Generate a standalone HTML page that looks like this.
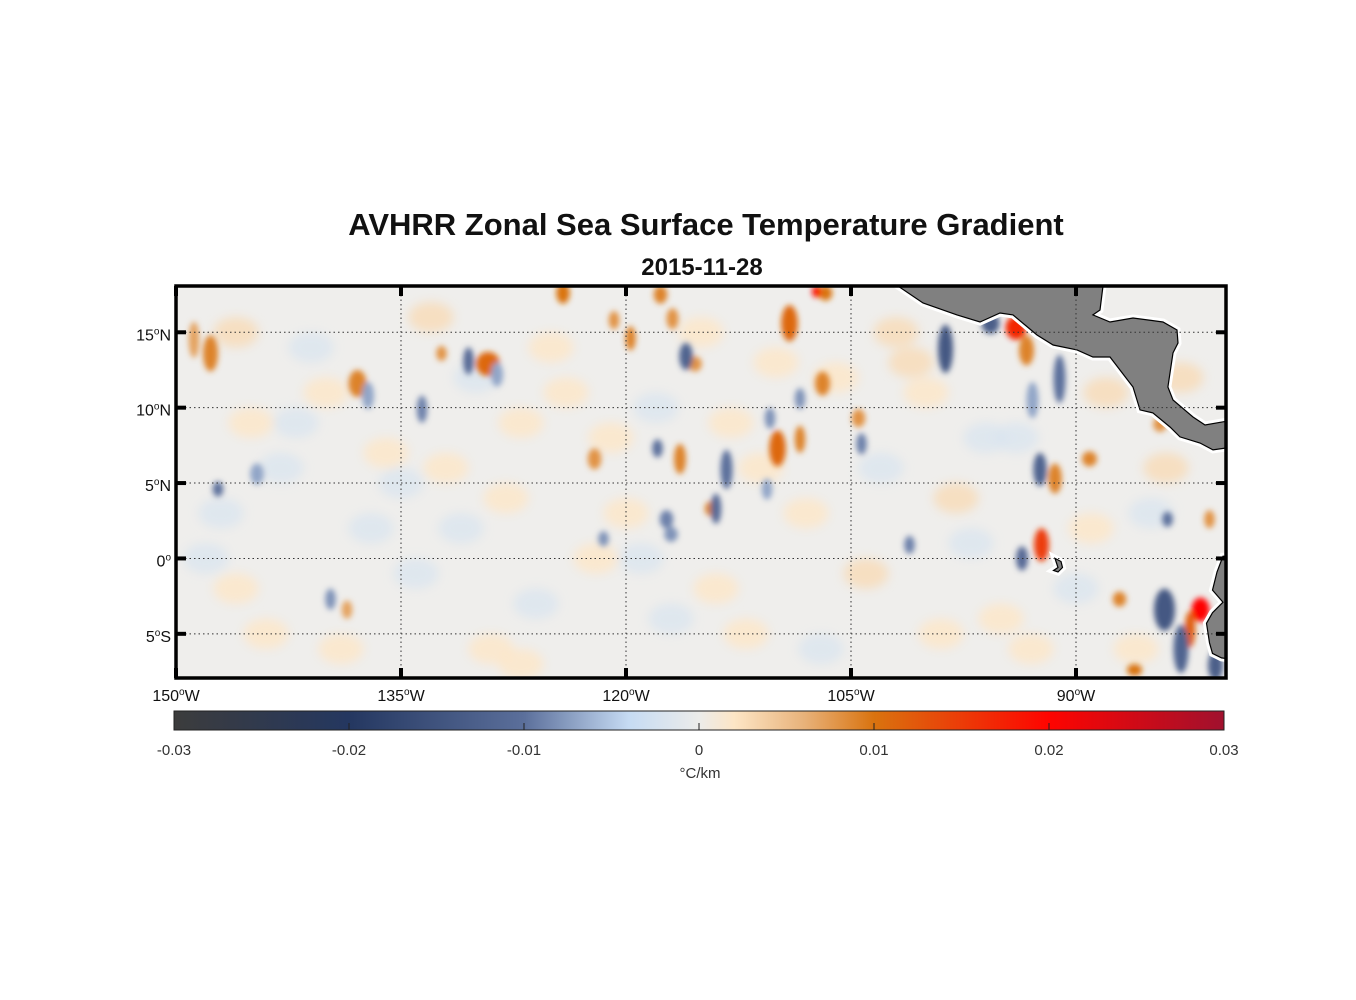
<!DOCTYPE html>
<html><head><meta charset="utf-8"><style>
html,body{margin:0;padding:0;background:#fff;}
svg{display:block;font-family:"Liberation Sans",Arial,sans-serif;}
</style></head><body>
<svg id="fig" width="1356" height="1000" viewBox="0 0 1356 1000">
<defs>
<filter id="blur" x="-50%" y="-50%" width="200%" height="200%"><feGaussianBlur stdDeviation="3"/></filter>
<filter id="blur2" x="-50%" y="-50%" width="200%" height="200%"><feGaussianBlur stdDeviation="5"/></filter>
<clipPath id="mapclip"><rect x="176" y="286" width="1050" height="392"/></clipPath>
<linearGradient id="cbgrad" x1="0" x2="1" y1="0" y2="0"></linearGradient>
</defs>
<text x="706" y="235" text-anchor="middle" font-size="31" font-weight="bold" fill="#111">AVHRR Zonal Sea Surface Temperature Gradient</text>
<text x="702" y="275" text-anchor="middle" font-size="24" font-weight="bold" fill="#111">2015-11-28</text>
<g id="map" clip-path="url(#mapclip)">
<rect x="176" y="286" width="1050" height="392" fill="#efeeec"/>
<g id="faint" filter="url(#blur2)"></g>
<g id="blobs" filter="url(#blur)"></g>
<g id="land"></g>
</g>
<g id="grid"></g>
<rect x="176" y="286" width="1050" height="392" fill="none" stroke="#000" stroke-width="3.5"/>
<g id="ticks"></g>
<g id="colorbar"></g>
</svg>
<script>
const NS='http://www.w3.org/2000/svg';
const lonMin=-150, lonMax=-80, latMin=-7.93, latMax=18.07;
const lonTicks=[-150,-135,-120,-105,-90];
const lonTickLabels=['150','135','120','105','90'];
const latTicks=[15,10,5,0,-5];
const latTickLabels=['15','10','5','0','5'];
const latTickSuffix=['N','N','N','','S'];
// strong anomaly features: lon, lat, value(°C/km), half-width(deg), half-height(deg)
const blobLon=[-147.7,-137.9,-129.2,-124.2,-119.7,-117.7,-120.8,-116.9,-109.1,-109.9,-108.4,-116.4,-114.3,-122.1,-106.9,-94.0,-92.3,-91.4,-89.1,-81.7,-82.4,-86.1,-87.1,-84.4,-115.4,-104.5,-106.7,-107.3,-81.1,-132.3,-138.6,-148.8,-93.3,
 -130.5,-133.6,-147.2,-116.0,-117.9,-113.3,-114.0,-117.3,-98.7,-95.7,-91.1,-92.4,-93.6,-84.1,-80.7,-101.1,-104.3,-83.9,-139.7,-108.4,-110.4,-121.5,-144.6,-110.6,-83.0,-117.0,-92.9,-128.6,-137.2];
const blobLat=[13.6,11.6,12.9,17.6,14.6,17.5,15.8,15.9,15.6,7.3,7.9,6.6,3.3,6.6,11.6,15.3,0.9,5.3,6.6,-3.4,-4.7,-7.4,-2.7,8.9,12.9,9.3,17.6,17.7,2.6,13.6,-3.4,14.5,13.8,
 13.1,9.9,4.6,13.4,7.3,5.9,3.3,2.6,13.9,15.6,11.9,5.9,0.0,-3.4,-7.1,0.9,7.6,2.6,-2.7,10.6,9.3,1.3,5.6,4.6,-6.0,1.6,10.5,12.2,10.8];
const blobVal=[0.009,0.009,0.011,0.010,0.009,0.009,0.008,0.008,0.011,0.011,0.009,0.009,0.009,0.008,0.009,0.017,0.015,0.009,0.009,0.020,0.012,0.010,0.009,0.008,0.008,0.008,0.010,0.019,0.008,0.008,0.007,0.007,0.009,
 -0.011,-0.009,-0.010,-0.012,-0.010,-0.010,-0.011,-0.009,-0.014,-0.013,-0.010,-0.012,-0.011,-0.014,-0.013,-0.009,-0.009,-0.010,-0.008,-0.008,-0.008,-0.008,-0.007,-0.007,-0.012,-0.008,-0.007,-0.007,-0.007];
const blobW=[0.5,0.6,0.8,0.45,0.35,0.45,0.35,0.4,0.55,0.55,0.35,0.4,0.45,0.45,0.5,0.7,0.5,0.45,0.5,0.6,0.35,0.5,0.45,0.45,0.45,0.45,0.45,0.3,0.35,0.35,0.35,0.35,0.5,
 0.35,0.35,0.35,0.45,0.35,0.4,0.35,0.45,0.5,0.6,0.4,0.45,0.4,0.7,0.5,0.35,0.35,0.35,0.35,0.35,0.35,0.35,0.45,0.35,0.5,0.45,0.4,0.4,0.4];
const blobH=[1.2,0.9,0.8,0.7,0.8,0.6,0.6,0.7,1.2,1.2,0.9,1.0,0.5,0.7,0.8,0.8,1.1,1.0,0.5,0.8,1.2,0.4,0.5,0.5,0.5,0.6,0.5,0.4,0.6,0.5,0.6,1.2,1.0,
 0.9,0.9,0.5,0.9,0.6,1.3,1.0,0.6,1.6,0.7,1.6,1.1,0.8,1.4,1.0,0.6,0.7,0.5,0.7,0.7,0.7,0.5,0.7,0.7,1.6,0.5,1.2,0.8,0.9];
// faint background patches
const faintLon=[-146,-140,-133,-127,-120,-143,-137,-128,-118,-110,-102,-96,-88,-84,-146,-139,-126,-112,-104,-95,-86,-148,-134,-122,-108,-98,-90,-83,-130,-115,-100,-142,-124,
 -145,-141,-136,-131,-125,-121,-114,-107,-101,-97,-93,-89,-85,-144,-135,-129,-117,-111,-103,-99,-94,-132,-119,-106,-147,-127,-113];
const faintLat=[15,11,16,9,3,6,2,4,10,13,15,8,11,6,-2,-6,-3,-5,-1,-4,-6,0,-1,0,3,4,-2,12,12,15,11,9,11,
 9,14,7,2,14,8,-2,-6,13,1,-6,2,3,-5,5,-6,-4,6,6,-5,8,6,0,12,3,-7,9];
const faintVal=[0.003,0.002,0.003,0.002,0.002,-0.002,-0.002,0.002,-0.002,0.002,0.003,-0.002,0.003,0.003,0.002,0.002,-0.002,0.002,0.003,0.002,0.002,-0.002,-0.002,0.002,0.002,0.003,-0.002,0.003,-0.002,0.002,0.002,-0.002,0.002,
 0.002,-0.002,0.002,-0.002,0.002,0.002,0.002,-0.002,0.003,-0.002,0.002,0.002,-0.002,0.002,-0.002,0.002,-0.002,0.002,-0.002,0.002,-0.002,0.002,-0.002,0.002,-0.002,0.002,0.002];
const cbVals=[-0.03,-0.02,-0.01,-0.004,0,0.002,0.006,0.01,0.02,0.03];
const cbCols=['#3c3c3c','#243760','#5b6f9b','#c6dbf3','#ececea','#fde6c6','#e8b27a','#d9730f','#fe0400','#a0112e'];
const cbTicks=[-0.03,-0.02,-0.01,0,0.01,0.02,0.03];
const cbTickLabels=['-0.03','-0.02','-0.01','0','0.01','0.02','0.03'];
const centralAm=[[-102.5,18.5],[-101.87,18.07],[-100.2,16.94],[-97.93,16.15],[-96.4,15.68],[-95.07,16.28],[-94.2,16.15],[-92.6,14.82],[-91.53,14.16],[-89.93,13.83],[-88.87,13.36],[-87.73,13.36],[-86.2,11.37],[-85.73,9.85],[-84.87,9.65],[-83.73,8.72],[-83.07,8.06],[-81.73,7.66],[-80.87,7.2],[-79.5,7.4],[-79.5,9.18],[-81.4,8.85],[-82.2,9.38],[-83.53,10.51],[-83.87,11.37],[-83.53,13.63],[-83.2,14.29],[-83.27,15.15],[-84.2,15.68],[-86.2,15.95],[-87.73,15.68],[-88.87,16.15],[-88.4,16.48],[-88.2,18.07],[-88.2,18.5]];
const southAm=[[-80.2,0.15],[-80.6,-0.9],[-80.9,-2.1],[-80.2,-2.9],[-80.9,-3.6],[-81.3,-4.3],[-81.1,-5.6],[-80.9,-6.3],[-80.3,-6.6],[-79.5,-6.7],[-79.5,0.15]];
const galap=[[-91.4,0.0],[-91.0,-0.2],[-90.9,-0.6],[-91.2,-0.9],[-91.5,-0.8],[-91.2,-0.6],[-91.3,-0.3]];

const X0=176,X1=1226,Y0=286,Y1=678;
const xs=lon=>X0+(lon-lonMin)/(lonMax-lonMin)*(X1-X0);
const ys=lat=>Y1-(lat-latMin)/(latMax-latMin)*(Y1-Y0);
const pxPerLon=(X1-X0)/(lonMax-lonMin), pxPerLat=(Y1-Y0)/(latMax-latMin);
function hex(c){return [1,3,5].map(i=>parseInt(c.substr(i,2),16));}
function cmap(v){
  if(v<=cbVals[0])return cbCols[0];
  for(let i=1;i<cbVals.length;i++){if(v<=cbVals[i]){const t=(v-cbVals[i-1])/(cbVals[i]-cbVals[i-1]);const a=hex(cbCols[i-1]),b=hex(cbCols[i]);return 'rgb('+a.map((q,k)=>Math.round(q+(b[k]-q)*t)).join(',')+')';}}
  return cbCols[cbCols.length-1];
}
function mk(tag,attrs,parent){const e=document.createElementNS(NS,tag);for(const k in attrs)e.setAttribute(k,attrs[k]);parent.appendChild(e);return e;}
const faint=document.getElementById('faint');
for(let i=0;i<faintLon.length;i++){
  const e=mk('ellipse',{cx:xs(faintLon[i]),cy:ys(faintLat[i]),rx:1.5*pxPerLon,ry:1.0*pxPerLat,fill:cmap(faintVal[i]),opacity:0.75},faint);
  
  
}
const blobs=document.getElementById('blobs');
for(let i=0;i<blobLon.length;i++){
  const e=mk('ellipse',{cx:xs(blobLon[i]),cy:ys(blobLat[i]),rx:blobW[i]*pxPerLon,ry:blobH[i]*pxPerLat,fill:cmap(blobVal[i])},blobs);
  
  
}
const land=document.getElementById('land');
[[centralAm,'central-america-land'],[southAm,'south-america-land'],[galap,'galapagos-land']].forEach(([pts,nm])=>{
  const d=pts.map(p=>xs(p[0]).toFixed(1)+','+ys(p[1]).toFixed(1)).join(' ');
  mk('polygon',{points:d,fill:'none',stroke:'#fff','stroke-width':7},land);
  const e=mk('polygon',{points:d,fill:'#808080',stroke:'#000','stroke-width':1.2},land);
  
  
});
const grid=document.getElementById('grid'),ticks=document.getElementById('ticks');
lonTicks.forEach((lon,i)=>{
  const x=xs(lon);
  if(i>0){const g=mk('line',{x1:x,x2:x,y1:Y0,y2:Y1,stroke:'#333','stroke-width':1,'stroke-dasharray':'1.5,3'},grid);
  
  }
  mk('rect',{x:x-2,y:Y0,width:4,height:10,fill:'#000'},ticks);
  mk('rect',{x:x-2,y:Y1-10,width:4,height:10,fill:'#000'},ticks);
  const t=mk('text',{x:x,y:701,'text-anchor':'middle','font-size':16,fill:'#111'},ticks);
  t.innerHTML=lonTickLabels[i]+'<tspan dy="-6" font-size="10">o</tspan><tspan dy="6">W</tspan>';
  
  
});
latTicks.forEach((lat,i)=>{
  const y=ys(lat);
  const g=mk('line',{x1:X0,x2:X1,y1:y,y2:y,stroke:'#333','stroke-width':1,'stroke-dasharray':'1.5,3'},grid);
  
  
  mk('rect',{x:X0,y:y-2,width:10,height:4,fill:'#000'},ticks);
  mk('rect',{x:X1-10,y:y-2,width:10,height:4,fill:'#000'},ticks);
  const t=mk('text',{x:171,y:y+8,'text-anchor':'end','font-size':16,fill:'#111'},ticks);
  const suf=latTickSuffix[i];
  t.innerHTML=latTickLabels[i]+'<tspan dy="-6" font-size="10">o</tspan><tspan dy="6">'+(suf||'\u200b')+'</tspan>';
  
  
});
const CB0=174,CB1=1224,CBY=711,CBH=19;
const cbx=v=>CB0+(v-cbVals[0])/(cbVals[cbVals.length-1]-cbVals[0])*(CB1-CB0);
const grad=document.getElementById('cbgrad');
cbVals.forEach((v,i)=>{mk('stop',{offset:((v-cbVals[0])/(cbVals[cbVals.length-1]-cbVals[0])).toFixed(4),'stop-color':cbCols[i]},grad);});
const cb=document.getElementById('colorbar');


mk('rect',{x:CB0,y:CBY,width:CB1-CB0,height:CBH,fill:'url(#cbgrad)',stroke:'#222','stroke-width':1},cb);
cbTicks.forEach((v,i)=>{
  const x=cbx(v);
  if(i>0&&i<cbTicks.length-1)mk('line',{x1:x,x2:x,y1:CBY+CBH,y2:CBY+CBH-7,stroke:'#222','stroke-width':1},cb);
  const t=mk('text',{x:x,y:755,'text-anchor':'middle','font-size':15,fill:'#333'},cb);
  t.textContent=cbTickLabels[i];
  
  
});
const u=mk('text',{x:700,y:778,'text-anchor':'middle','font-size':15,fill:'#333'},cb);
u.textContent='\u00B0C/km';


</script>
</body></html>
